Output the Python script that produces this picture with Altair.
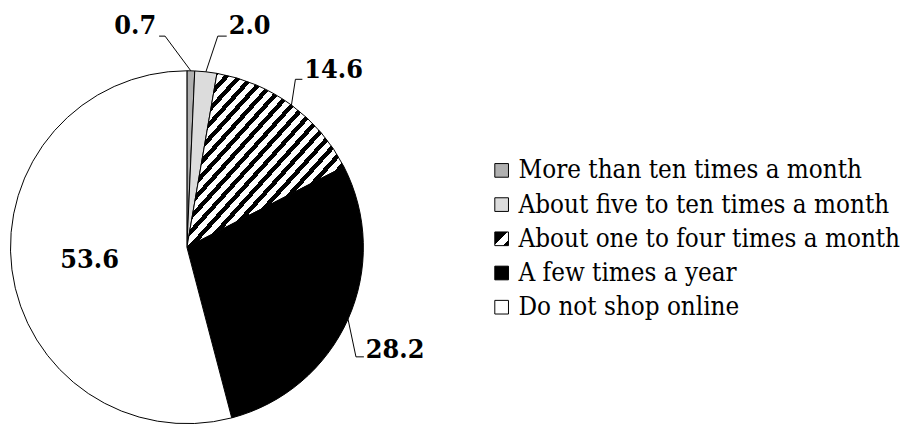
import altair as alt
import pandas as pd

# ---- data ----
categories = [
    "More than ten times a month",
    "About five to ten times a month",
    "About one to four times a month",
    "A few times a year",
    "Do not shop online",
]
values = [0.7, 2.0, 14.6, 28.2, 53.6]
labels = ["0.7", "2.0", "14.6", "28.2", "53.6"]

# ---- layout (pixels, separate from data) ----
CX, CY, R = 180.5, 239.5, 178
elbow_dx = [-26, 12, 4, 8, 0]
elbow_dy = [-35, -36, -26, 38, 0]
hline = [-6, 9, 7, 8, 0]
text_dx = [-3, 2, 2, 2, 0]
text_dy = [-2, -2, -1, 1, 0]
inside_r = [0, 0, 0, 0, 99]

df = pd.DataFrame({
    "cat": categories, "value": values, "label": labels, "idx": list(range(5)),
    "edx": elbow_dx, "edy": elbow_dy, "hl": hline, "tdx": text_dx, "tdy": text_dy,
    "ir": inside_r,
})

# ---- fills ----
N = 24
stops = []
for k in range(N):
    a, b, c = k / N, (k + 0.45) / N, (k + 1) / N
    stops += [{"offset": a, "color": "black"}, {"offset": b, "color": "black"},
              {"offset": b, "color": "white"}, {"offset": c, "color": "white"}]
hatch = {"gradient": "linear", "x1": 0, "y1": 0, "x2": 1, "y2": 1, "stops": stops}
hatch_sym = {"gradient": "linear", "x1": 0, "y1": 0, "x2": 1, "y2": 1, "stops": [
    {"offset": 0, "color": "black"}, {"offset": 0.45, "color": "black"},
    {"offset": 0.45, "color": "white"}, {"offset": 0.8, "color": "white"},
    {"offset": 0.8, "color": "black"}, {"offset": 1, "color": "black"}]}
GRAY = "#b0b0b0"
DOTS = "#dcdcdc"


def fill_for(h):
    return (alt.when(alt.datum.idx == 0).then(alt.value(GRAY))
            .when(alt.datum.idx == 1).then(alt.value(DOTS))
            .when(alt.datum.idx == 2).then(alt.value(h))
            .when(alt.datum.idx == 3).then(alt.value("black"))
            .otherwise(alt.value("white")))


FONT_LABEL = "DejaVu Serif Condensed"
FONT_LEG = "DejaVu Serif Condensed"

pie = alt.Chart(df).mark_arc(outerRadius=R, stroke="black", strokeWidth=1).encode(
    theta=alt.Theta("value:Q", stack=True),
    order=alt.Order("idx:Q", sort="ascending"),
    fill=fill_for(hatch),
    x=alt.value(CX),
    y=alt.value(CY),
)

base = (
    alt.Chart(df)
    .transform_window(cum="sum(value)", sort=[alt.SortField("idx", order="ascending")], frame=[None, 0])
    .transform_joinaggregate(total="sum(value)")
    .transform_calculate(mid="(datum.cum - datum.value/2)/datum.total*2*PI")
    .transform_calculate(rx=f"{CX}+{R}*sin(datum.mid)", ry=f"{CY}-{R}*cos(datum.mid)")
    .transform_calculate(ex="datum.rx+datum.edx", ey="datum.ry+datum.edy")
    .transform_calculate(hx="datum.ex+datum.hl")
    .transform_calculate(tx="datum.hx+datum.tdx", ty="datum.ey+datum.tdy")
    .transform_calculate(ix=f"{CX}+datum.ir*sin(datum.mid)", iy=f"{CY}-datum.ir*cos(datum.mid)")
)

lead = base.transform_filter("datum.ir == 0")
rule1 = lead.mark_rule(color="black", strokeWidth=1).encode(
    x=alt.X("rx:Q", scale=None), y=alt.Y("ry:Q", scale=None), x2="ex:Q", y2="ey:Q")
rule2 = lead.mark_rule(color="black", strokeWidth=1).encode(
    x=alt.X("ex:Q", scale=None), x2="hx:Q", y=alt.Y("ey:Q", scale=None))

txt_right = base.transform_filter("datum.idx == 0").mark_text(
    align="right", baseline="alphabetic", font=FONT_LABEL, fontSize=27, fontWeight="bold", color="black"
).encode(x=alt.X("tx:Q", scale=None), y=alt.Y("ty:Q", scale=None), text="label:N")
txt_left = base.transform_filter("datum.idx >= 1 && datum.idx <= 3").mark_text(
    align="left", baseline="alphabetic", font=FONT_LABEL, fontSize=27, fontWeight="bold", color="black"
).encode(x=alt.X("tx:Q", scale=None), y=alt.Y("ty:Q", scale=None), text="label:N")
txt_in = base.transform_filter("datum.ir > 0").mark_text(
    align="center", baseline="middle", font=FONT_LABEL, fontSize=27, fontWeight="bold", color="black"
).encode(x=alt.X("ix:Q", scale=None), y=alt.Y("iy:Q", scale=None), text="label:N")

ly = alt.Y("cat:N", scale=alt.Scale(domain=categories, range=[162, 300], padding=0), axis=None)
leg_sym = alt.Chart(df).mark_point(shape="square", filled=True, size=190, stroke="black",
                                   strokeWidth=1, opacity=1).encode(
    x=alt.value(498), y=ly, fill=fill_for(hatch_sym))
leg_txt = alt.Chart(df).mark_text(align="left", baseline="middle", font=FONT_LEG,
                                  fontSize=26, color="black").encode(
    x=alt.value(515), y=ly, text="cat:N")

chart = (
    alt.layer(pie, rule1, rule2, txt_right, txt_left, txt_in, leg_sym, leg_txt)
    .resolve_scale(x="independent", y="independent")
    .properties(width=914, height=416, autosize=alt.AutoSizeParams(type="none"), padding=0)
    .configure_view(stroke=None)
)

chart.save("out.html", embed_options={"renderer": "svg", "actions": False})
